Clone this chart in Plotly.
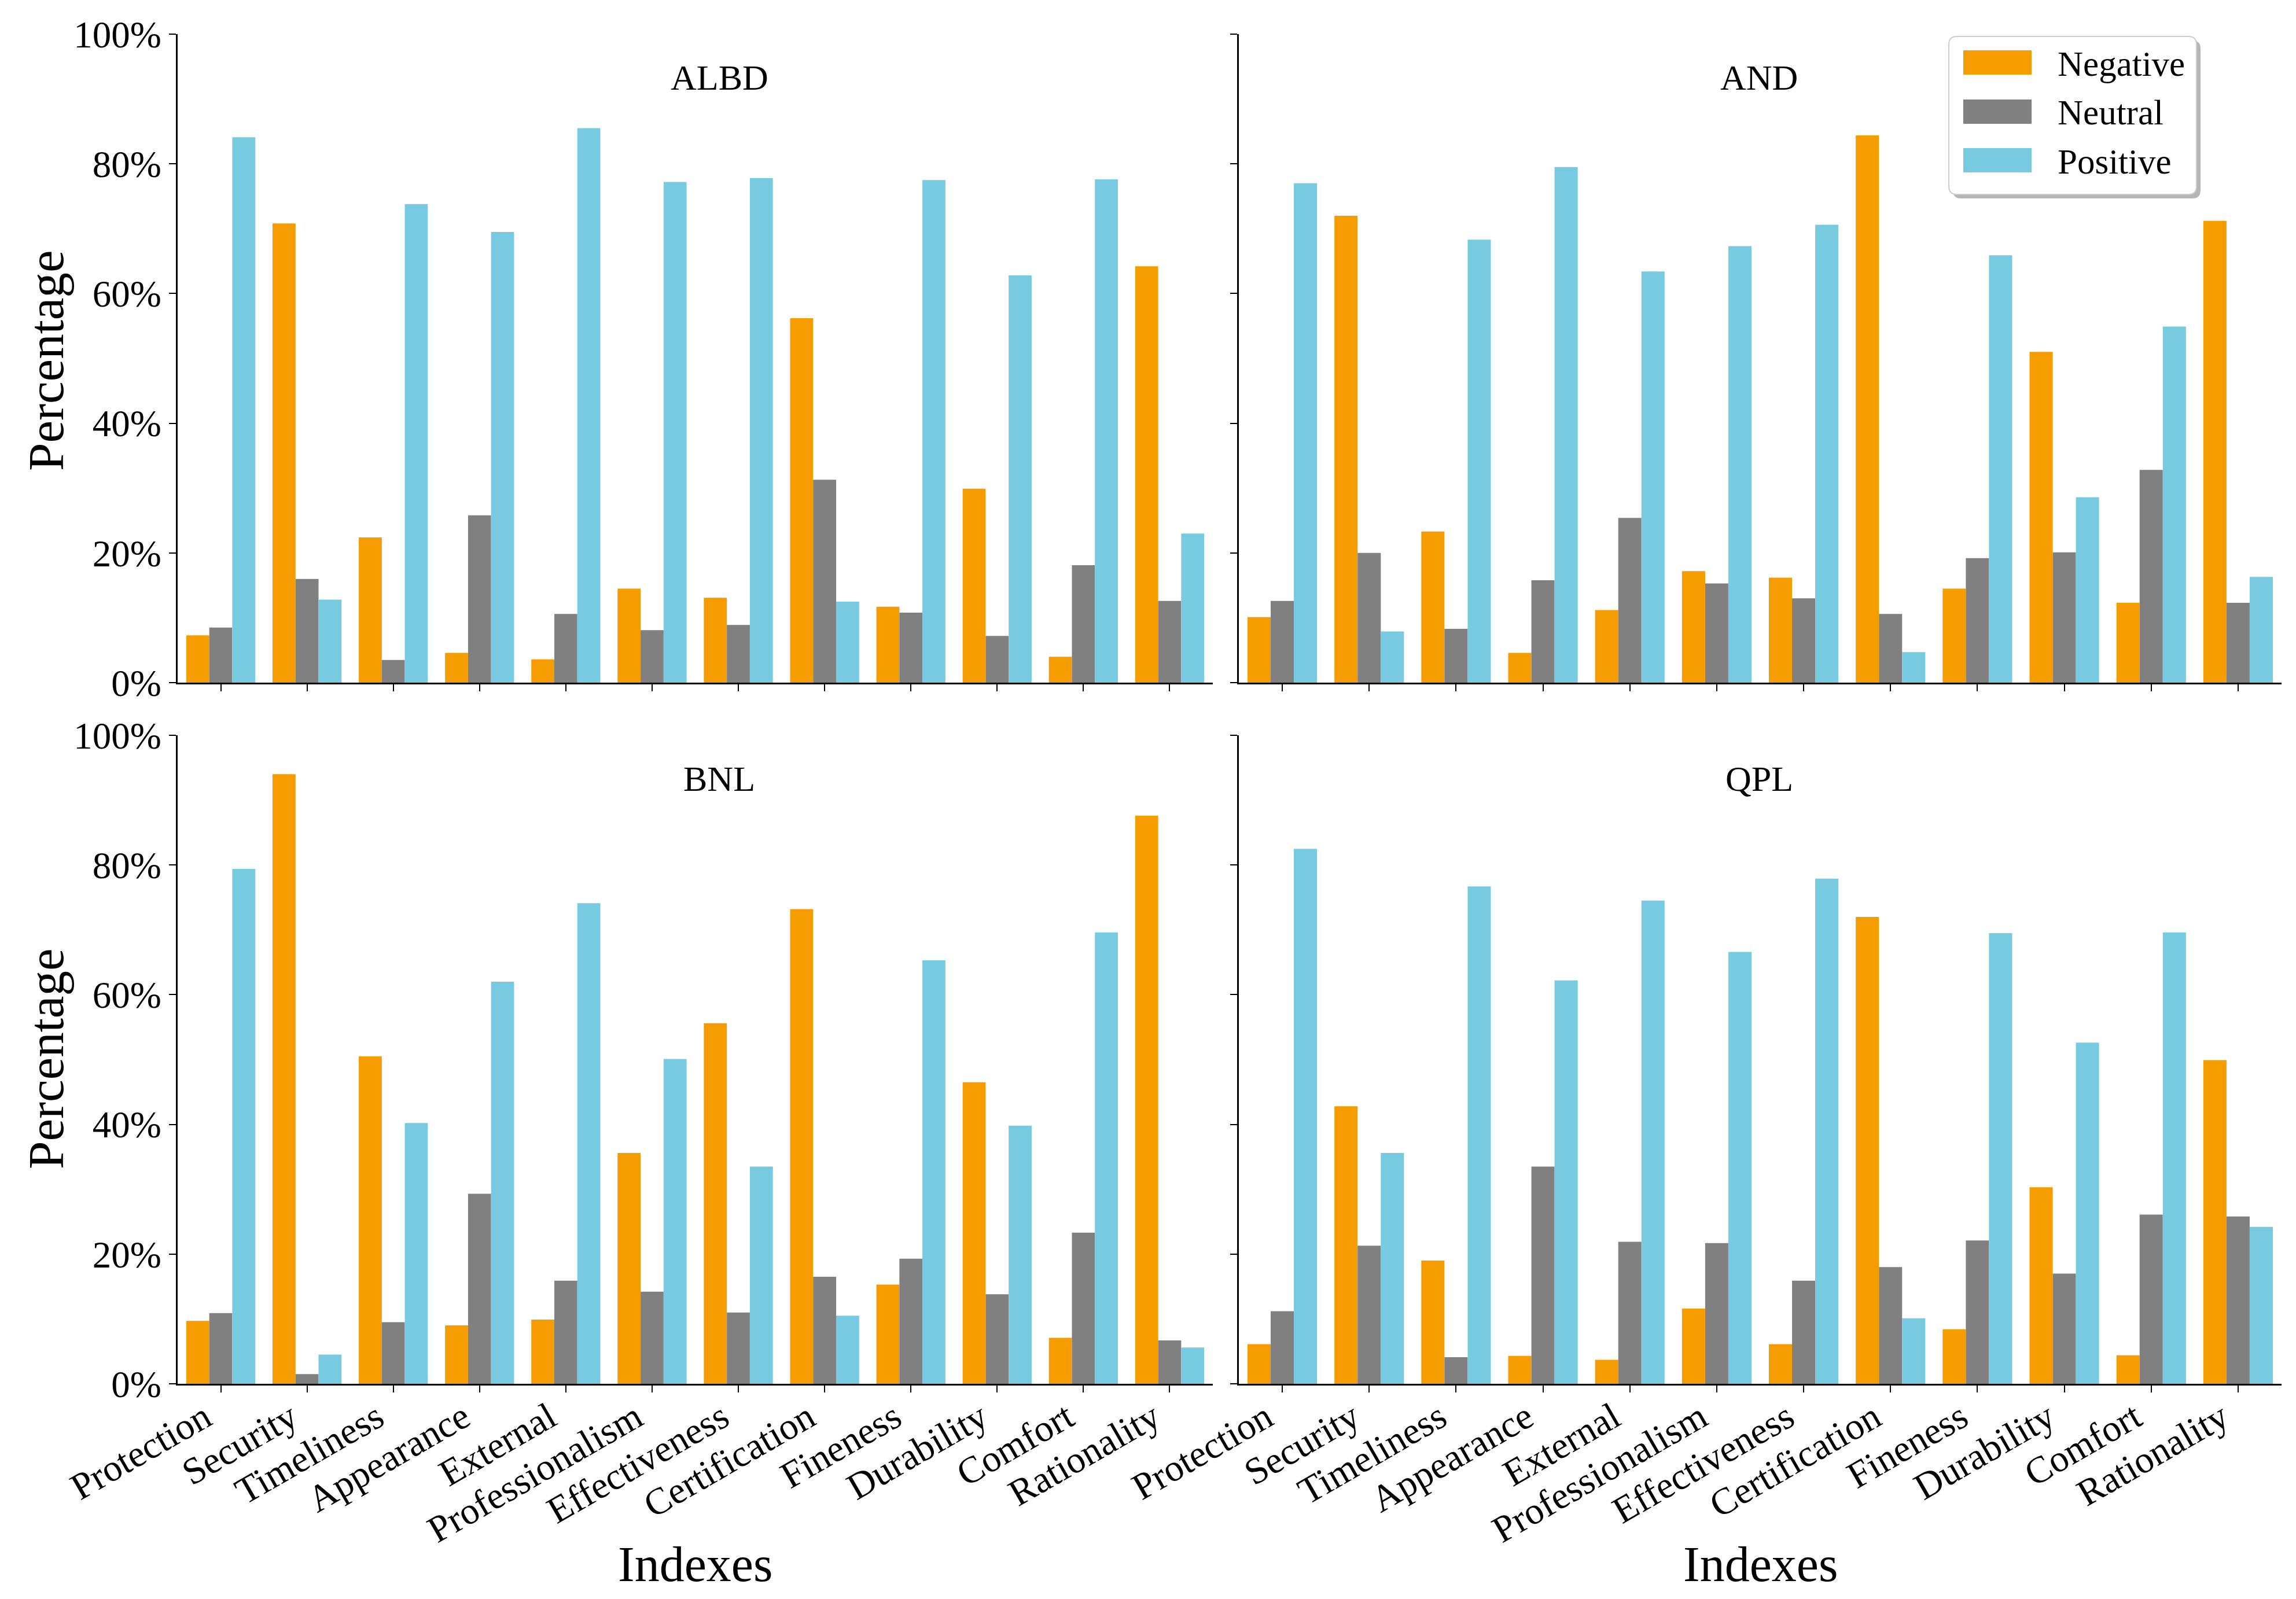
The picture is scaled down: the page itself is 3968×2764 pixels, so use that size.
import plotly.graph_objects as go

W, H = 3968, 2764

categories = ["Protection", "Security", "Timeliness", "Appearance", "External",
              "Professionalism", "Effectiveness", "Certification", "Fineness",
              "Durability", "Comfort", "Rationality"]
series_names = ["Negative", "Neutral", "Positive"]
panel_names = ["ALBD", "AND", "BNL", "QPL"]
y_ticks = [0, 20, 40, 60, 80, 100]
y_tick_labels = ["0%", "20%", "40%", "60%", "80%", "100%"]

albd_negative = [7.3, 70.8, 22.4, 4.6, 3.6, 14.5, 13.1, 56.2, 11.7, 29.9, 4.0, 64.2]
albd_neutral = [8.5, 16.0, 3.5, 25.8, 10.6, 8.1, 8.9, 31.3, 10.8, 7.2, 18.1, 12.6]
albd_positive = [84.1, 12.8, 73.8, 69.5, 85.5, 77.2, 77.8, 12.5, 77.5, 62.8, 77.6, 23.0]

and_negative = [10.1, 72.0, 23.3, 4.6, 11.2, 17.2, 16.2, 84.4, 14.5, 51.0, 12.3, 71.2]
and_neutral = [12.6, 20.0, 8.3, 15.8, 25.4, 15.3, 13.0, 10.6, 19.2, 20.1, 32.8, 12.3]
and_positive = [77.0, 7.9, 68.3, 79.5, 63.4, 67.3, 70.6, 4.7, 65.9, 28.6, 54.9, 16.3]

bnl_negative = [9.7, 94.0, 50.5, 9.0, 9.9, 35.6, 55.6, 73.2, 15.3, 46.5, 7.1, 87.6]
bnl_neutral = [10.9, 1.5, 9.5, 29.3, 15.9, 14.2, 11.0, 16.5, 19.3, 13.8, 23.3, 6.7]
bnl_positive = [79.4, 4.5, 40.2, 62.0, 74.1, 50.1, 33.5, 10.5, 65.3, 39.8, 69.6, 5.6]

qpl_negative = [6.1, 42.8, 19.0, 4.3, 3.7, 11.6, 6.1, 72.0, 8.4, 30.3, 4.4, 49.9]
qpl_neutral = [11.2, 21.3, 4.1, 33.5, 21.9, 21.7, 15.9, 18.0, 22.1, 17.0, 26.1, 25.8]
qpl_positive = [82.5, 35.6, 76.7, 62.2, 74.5, 66.6, 77.9, 10.1, 69.5, 52.6, 69.6, 24.2]

panel_data = {
    "ALBD": [albd_negative, albd_neutral, albd_positive],
    "AND": [and_negative, and_neutral, and_positive],
    "BNL": [bnl_negative, bnl_neutral, bnl_positive],
    "QPL": [qpl_negative, qpl_neutral, qpl_positive],
}

colors = ["#F59C00", "#808080", "#78CAE0"]
FONT = "Liberation Serif"


def px(x):
    return x / W


def py(y):
    return 1 - y / H


# axes geometry (pixels)
x_dom = {"L": (299, 2088), "R": (2133, 3935)}
y_dom = {"T": (1172, 51), "B": (2384, 1263)}
layout_pos = {"ALBD": ("L", "T"), "AND": ("R", "T"), "BNL": ("L", "B"), "QPL": ("R", "B")}

fig = go.Figure()
layout = {}
for i, name in enumerate(panel_names):
    k = "" if i == 0 else str(i + 1)
    xs, ys = layout_pos[name]
    for s, sname in enumerate(series_names):
        fig.add_trace(go.Bar(
            x=categories, y=panel_data[name][s], name=sname,
            marker=dict(color=colors[s], line=dict(width=0)),
            xaxis="x" + k, yaxis="y" + k, showlegend=False,
        ))
    layout["xaxis" + k] = dict(
        domain=[px(x_dom[xs][0]), px(x_dom[xs][1])],
        anchor="y" + k, range=[-0.5, 11.5], type="category",
        showline=True, linecolor="black", linewidth=3,
        ticks="outside", ticklen=12, tickwidth=2, tickcolor="black",
        showgrid=False, zeroline=False, automargin=False,
        showticklabels=(ys == "B"), tickangle=-30,
        ticklabelshift=-28, ticklabelstandoff=-20,
        tickfont=dict(family=FONT, size=65, color="black"),
    )
    layout["yaxis" + k] = dict(
        domain=[py(y_dom[ys][0]), py(y_dom[ys][1])],
        anchor="x" + k, range=[0, 100],
        tickmode="array", tickvals=y_ticks, ticktext=y_tick_labels,
        showline=True, linecolor="black", linewidth=3,
        ticks="outside", ticklen=12, tickwidth=2, tickcolor="black",
        showgrid=False, zeroline=False, automargin=False,
        showticklabels=(xs == "L"),
        tickfont=dict(family=FONT, size=65, color="black"),
    )

annotations = []
title_pos = {"ALBD": (1235, 126), "AND": (3032, 126), "BNL": (1235, 1338), "QPL": (3032, 1338)}
for name, (tx, ty) in title_pos.items():
    annotations.append(dict(text=name, x=px(tx), y=py(ty), xref="paper", yref="paper",
                            showarrow=False, xanchor="center", yanchor="middle",
                            font=dict(family=FONT, size=62, color="black")))
for cx in [(299 + 2088) / 2, (2133 + 3935) / 2]:
    annotations.append(dict(text="Indexes", x=px(cx), y=py(2696), xref="paper", yref="paper",
                            showarrow=False, xanchor="center", yanchor="middle",
                            font=dict(family=FONT, size=86, color="black")))
for cy in [615, 1822]:
    annotations.append(dict(text="Percentage", x=px(71), y=py(cy), xref="paper", yref="paper",
                            showarrow=False, xanchor="center", yanchor="middle", textangle=-90,
                            font=dict(family=FONT, size=87, color="black")))

# custom legend
shapes = []


def rounded(x0, y0, x1, y1, r):
    X0, X1 = px(x0), px(x1)
    Y0, Y1 = py(y0), py(y1)
    rx, ry = r / W, r / H
    return (f"M {X0+rx},{Y0} L {X1-rx},{Y0} Q {X1},{Y0} {X1},{Y0-ry} "
            f"L {X1},{Y1+ry} Q {X1},{Y1} {X1-rx},{Y1} L {X0+rx},{Y1} "
            f"Q {X0},{Y1} {X0},{Y1+ry} L {X0},{Y0-ry} Q {X0},{Y0} {X0+rx},{Y0} Z")


shapes.append(dict(type="path", xref="paper", yref="paper",
                   path=rounded(3367, 62, 3795, 335, 14),
                   fillcolor="rgba(120,120,120,0.55)", line=dict(width=0), layer="above"))
shapes.append(dict(type="path", xref="paper", yref="paper",
                   path=rounded(3360, 55, 3788, 328, 14),
                   fillcolor="white", line=dict(color="#cccccc", width=2), layer="above"))
rows = [(79, 121), (164, 206), (248, 290)]
for s, sname in enumerate(series_names):
    y0, y1 = rows[s]
    shapes.append(dict(type="rect", xref="paper", yref="paper",
                       x0=px(3385), x1=px(3503), y0=py(y1), y1=py(y0),
                       fillcolor=colors[s], line=dict(width=0), layer="above"))
    annotations.append(dict(text=sname, x=px(3546), y=py((y0 + y1) / 2 + 2), xref="paper", yref="paper",
                            showarrow=False, xanchor="left", yanchor="middle",
                            font=dict(family=FONT, size=61, color="black")))

fig.update_layout(
    width=W, height=H, margin=dict(l=0, r=0, t=0, b=0, autoexpand=False),
    paper_bgcolor="white", plot_bgcolor="white",
    barmode="group", bargap=0.2, bargroupgap=0,
    showlegend=False, annotations=annotations, shapes=shapes,
    font=dict(family=FONT, color="black"),
    **layout,
)

fig.write_html("out.html")
